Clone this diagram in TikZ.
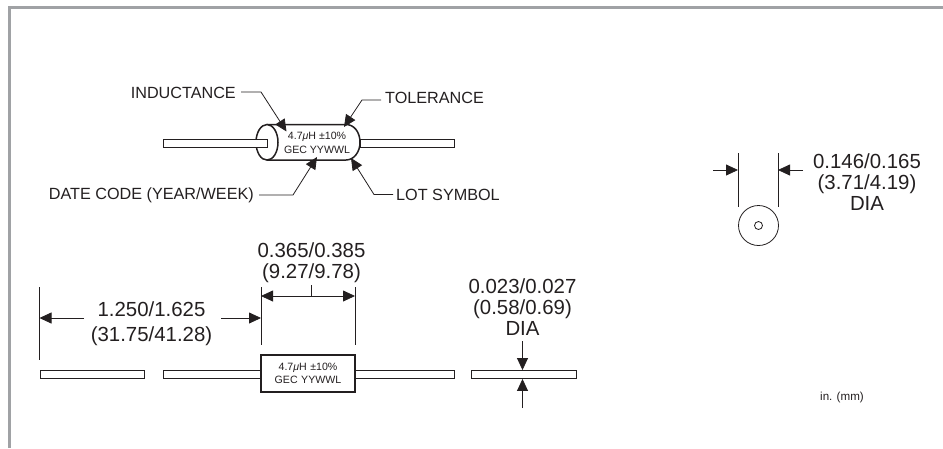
\documentclass[tikz,border=0pt]{standalone}
\usepackage{fontspec}
\setmainfont{Liberation Sans}
\usetikzlibrary{arrows.meta}
\definecolor{ink}{HTML}{231F20}
\definecolor{framegray}{HTML}{A0A2A5}
\newcommand{\uH}{4.7\textit{μ}H ±10\%}
\tikzset{
  x=1pt,y=-1pt,
  lead/.style={draw=ink,fill=white,line width=0.9pt,inner sep=0pt,minimum height=8pt},
  thinline/.style={draw=ink,line width=0.8pt},
  tipped/.style={draw=ink,line width=0.8pt,-{Triangle[length=12pt,width=11pt]}},
  dimtext/.style={inner sep=0pt,align=center,text=ink,font=\fontsize{20.4}{21}\selectfont},
  lbl/.style={inner sep=0pt,text=ink,font=\fontsize{16.2}{18}\selectfont},
  marking/.style={inner sep=0pt,align=center,text=ink,font=\fontsize{10.6}{13.5}\selectfont},
}
\begin{document}
\begin{tikzpicture}
\useasboundingbox (0,0) rectangle (943,448);
\draw[framegray,line width=2.6pt] (9.5,448) -- (9.5,7.5) -- (943,7.5);
% top component
\node[lead,minimum width=94pt,anchor=west] (leadTR) at (360,143) {};
\draw[draw=ink,fill=white,line width=1.5pt] (267,124.5) -- (346,124.5) .. controls (354,124.5) and (360,132) .. (360,142.3) .. controls (360,152) and (354,160) .. (346,160) -- (267,160);
\draw[draw=ink,fill=white,line width=1.5pt] (267,142.3) ellipse (11 and 17.8);
\node[lead,minimum width=104pt,anchor=west] (leadTL) at (163,143) {};
\node[marking] (markT) at (317,143) {\uH\\GEC YYWWL};
% labels
\node[lbl,anchor=east] (ind) at (236,93) {INDUCTANCE};
\node[lbl,anchor=west] (tol) at (385,98) {TOLERANCE};
\node[lbl,anchor=east] (date) at (254,195) {DATE CODE (YEAR/WEEK)};
\node[lbl,anchor=west] (lot) at (396,194.5) {LOT SYMBOL};
\coordinate (tipI) at (286.5,131.5);
\coordinate (tipT) at (344,127);
\coordinate (tipD) at (317,157);
\coordinate (tipL) at (351,158);
\draw[tipped] ([xshift=5pt,yshift=1pt]ind.east) -- ++(20,0) -- (tipI);
\draw[tipped] ([xshift=-4pt,yshift=-2pt]tol.west) -- ++(-19,0) -- (tipT);
\draw[tipped] ([xshift=5pt]date.east) -- ++(34,0) -- (tipD);
\draw[tipped] ([xshift=-3pt]lot.west) -- ++(-19,0) -- (tipL);
% bottom view
\node[lead,minimum width=104.5pt,anchor=west] (leadA) at (39.5,374.5) {};
\node[lead,minimum width=98.5pt,anchor=west] (leadB) at (162.5,374.5) {};
\node[lead,minimum width=99pt,anchor=west] (leadC) at (355,374.5) {};
\node[draw=ink,fill=white,line width=1.1pt,minimum width=94pt,minimum height=37pt,marking,text width=90pt] (body) at (308,373.5) {\uH\\GEC YYWWL};
\coordinate (a1) at (39.5,287); \coordinate (a2) at (39.5,360);
\coordinate (b1) at (261,287); \coordinate (b2) at (261,345);
\coordinate (c1) at (355,287); \coordinate (c2) at (355,345);
\draw[thinline] (a1)--(a2); \draw[thinline] (b1)--(b2); \draw[thinline] (c1)--(c2);
\node[dimtext,font=\fontsize{20.4}{25}\selectfont] (d1) at (151.5,323.5) {1.250/1.625\\(31.75/41.28)};
\node[dimtext] (d2) at (311.5,263) {0.365/0.385\\(9.27/9.78)};
\node[dimtext,anchor=north] (d3) at (522.5,279) {0.023/0.027\\(0.58/0.69)\\DIA};
\node[dimtext,anchor=north] (d4) at (867,154) {0.146/0.165\\(3.71/4.19)\\DIA};
\coordinate (s1) at (84,318); \coordinate (s2) at (221,318);
\coordinate (h1) at (39.5,318); \coordinate (h2) at (261,318);
\draw[tipped] (s1) -- (h1);
\draw[tipped] (s2) -- (h2);
\coordinate (m) at (311.5,296);
\coordinate (mt) at (311.5,285);
\coordinate (l1) at (261,296); \coordinate (l2) at (355,296);
\draw[tipped] (m) -- (l1);
\draw[tipped] (m) -- (l2);
\draw[thinline] (m) -- (mt);
% wire dia
\node[lead,minimum width=105pt,anchor=west] (leadD) at (470.7,374.5) {};
\coordinate (u) at (522.5,341); \coordinate (v) at (522.5,408);
\draw[tipped] (u) -- (leadD.north -| u);
\draw[tipped] (v) -- (leadD.south -| v);
% end view
\coordinate (e1) at (738,153); \coordinate (e2) at (738,207);
\coordinate (f1) at (778,153); \coordinate (f2) at (778,207);
\draw[thinline] (e1)--(e2); \draw[thinline] (f1)--(f2);
\coordinate (g1) at (713,170); \coordinate (g2) at (803,170);
\draw[tipped] (g1) -- (e1 |- g1);
\draw[tipped] (g2) -- (f1 |- g2);
\node[circle,draw=ink,line width=0.8pt,minimum size=40pt,inner sep=0pt] (outer) at (758.5,225.5) {};
\node[circle,draw=ink,line width=0.8pt,minimum size=8pt,inner sep=0pt] (innerc) at (758.5,225.5) {};
\node[inner sep=0pt,text=ink,font=\fontsize{11.6}{12}\selectfont] (unit) at (842,397) {in. (mm)};
\end{tikzpicture}
\end{document}
